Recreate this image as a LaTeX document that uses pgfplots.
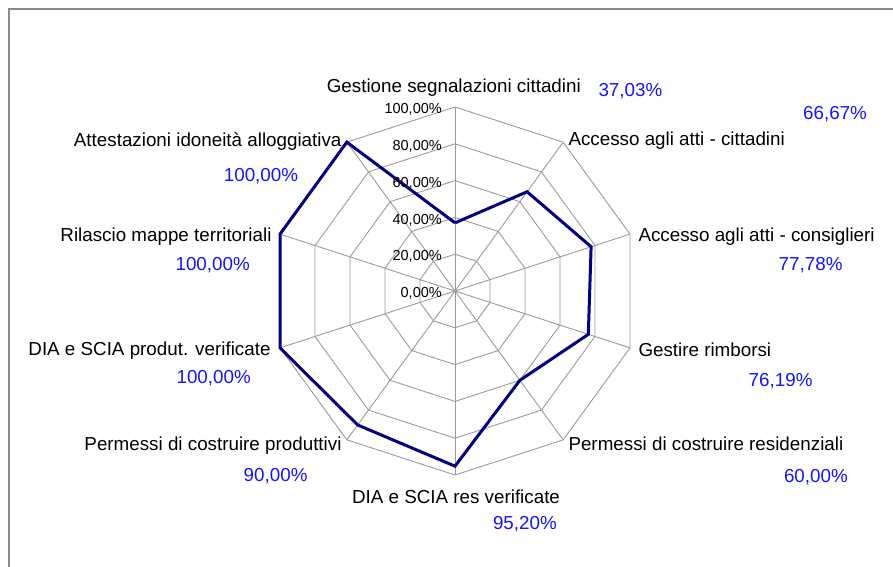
\documentclass[border=0pt]{standalone}
\usepackage{pgfplots}
\pgfplotsset{compat=1.18}
\usepackage{fontspec}
\setmainfont{Liberation Sans}
\definecolor{gridc}{HTML}{9A9A9A}
\definecolor{framec}{HTML}{8A8A8A}
\definecolor{linec}{HTML}{000080}
\definecolor{valc}{HTML}{1414FF}
\tikzset{
  lab/.style={inner sep=0pt, font=\fontsize{18.8}{22}\selectfont},
  val/.style={inner sep=0pt, text=valc, font=\fontsize{18.8}{22}\selectfont},
  tck/.style={inner sep=0pt, anchor=base east, xshift=-13pt, yshift=-6.7pt, font=\fontsize{14.5}{16}\selectfont},
}
\begin{document}
\begin{tikzpicture}
\begin{axis}[
  x=1.84pt, y=1.84pt,
  xmin=-100, xmax=100, ymin=-100, ymax=100,
  hide axis, clip=false,
]
% grid rings
\pgfplotsinvokeforeach{20,40,60,80,100}{
  \addplot[gridc, line width=0.9pt, data cs=polar, forget plot] coordinates {
    (90,#1)(54,#1)(18,#1)(-18,#1)(-54,#1)(-90,#1)(-126,#1)(-162,#1)(162,#1)(126,#1)(90,#1)};
}
% spokes
\pgfplotsinvokeforeach{90,54,18,-18,-54,-90,-126,-162,162,126}{
  \addplot[gridc, line width=0.9pt, data cs=polar, forget plot] coordinates {(#1,0)(#1,100)};
}
% data
\addplot[linec, line width=3pt, line join=miter, data cs=polar] coordinates {
  (90,37.03)(54,66.67)(18,77.78)(-18,76.19)(-54,60.00)(-90,95.20)
  (-126,90.00)(-162,100.00)(162,100.00)(126,100.00)(90,37.03)};
% radial tick labels
\node[tck] at (axis cs:0,0) {0,00\%};
\node[tck] at (axis cs:0,20) {20,00\%};
\node[tck] at (axis cs:0,40) {40,00\%};
\node[tck] at (axis cs:0,60) {60,00\%};
\node[tck] at (axis cs:0,80) {80,00\%};
\node[tck] at (axis cs:0,100) {100,00\%};
% category labels
\node[lab, anchor=base, xshift=-1.2pt, yshift=198.3pt] at (axis cs:0,0) {Gestione segnalazioni cittadini};
\node[lab, anchor=base west, xshift=113.3pt, yshift=146pt] at (axis cs:0,0) {Accesso agli atti - cittadini};
\node[lab, anchor=base west, xshift=183.3pt, yshift=50pt] at (axis cs:0,0) {Accesso agli atti - consiglieri};
\node[lab, anchor=base west, xshift=183.3pt, yshift=-65.7pt] at (axis cs:0,0) {Gestire rimborsi};
\node[lab, anchor=base west, xshift=113.3pt, yshift=-159pt] at (axis cs:0,0) {Permessi di costruire residenziali};
\node[lab, anchor=base, xshift=1pt, yshift=-212.3pt] at (axis cs:0,0) {DIA e SCIA res verificate};
\node[lab, anchor=base east, xshift=-113.3pt, yshift=-159pt] at (axis cs:0,0) {Permessi di costruire produttivi};
\node[lab, anchor=base east, xshift=-184.3pt, yshift=-64pt] at (axis cs:0,0) {DIA e SCIA produt. verificate};
\node[lab, anchor=base east, xshift=-183.3pt, yshift=50pt] at (axis cs:0,0) {Rilascio mappe territoriali};
\node[lab, anchor=base east, xshift=-113.3pt, yshift=145pt] at (axis cs:0,0) {Attestazioni idoneità alloggiativa};
% value labels
\node[val, anchor=base west, xshift=143.3pt, yshift=195pt] at (axis cs:0,0) {37,03\%};
\node[val, anchor=base west, xshift=348pt, yshift=171.7pt] at (axis cs:0,0) {66,67\%};
\node[val, anchor=base east, xshift=387.7pt, yshift=21pt] at (axis cs:0,0) {77,78\%};
\node[val, anchor=base east, xshift=357.7pt, yshift=-95pt] at (axis cs:0,0) {76,19\%};
\node[val, anchor=base east, xshift=393pt, yshift=-191.7pt] at (axis cs:0,0) {60,00\%};
\node[val, anchor=base east, xshift=102pt, yshift=-238.3pt] at (axis cs:0,0) {95,20\%};
\node[val, anchor=base east, xshift=-147.3pt, yshift=-190.7pt] at (axis cs:0,0) {90,00\%};
\node[val, anchor=base east, xshift=-204pt, yshift=-92.3pt] at (axis cs:0,0) {100,00\%};
\node[val, anchor=base east, xshift=-205pt, yshift=21pt] at (axis cs:0,0) {100,00\%};
\node[val, anchor=base east, xshift=-156.7pt, yshift=109.3pt] at (axis cs:0,0) {100,00\%};
\coordinate (O) at (axis cs:0,0);
\end{axis}
\draw[framec, line width=1.5pt] ([shift={(-446pt,-276pt)}]O) -- ([shift={(-446pt,282pt)}]O) -- ([shift={(439pt,282pt)}]O);
\pgfresetboundingbox
\path ([shift={(-455pt,-275pt)}]O) rectangle ([shift={(438pt,291pt)}]O);
\end{tikzpicture}
\end{document}
